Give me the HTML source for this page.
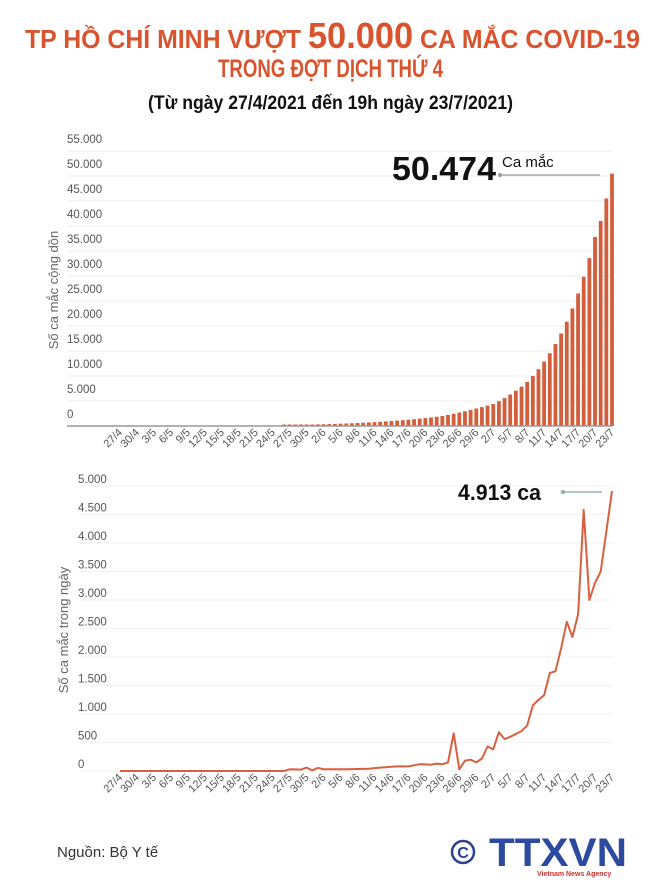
<!DOCTYPE html>
<html><head><meta charset="utf-8"><style>
html,body{margin:0;padding:0;background:#fff;}
svg{display:block;font-family:"Liberation Sans",sans-serif;}
</style></head><body>
<svg id="s" width="661" height="890" viewBox="0 0 661 890" xmlns="http://www.w3.org/2000/svg">
<rect width="661" height="890" fill="#fff"/>
<text x="25" y="48" fill="#d9542e" font-weight="bold" font-size="26" textLength="615" lengthAdjust="spacingAndGlyphs">TP HỒ CHÍ MINH VƯỢT <tspan font-size="36">50.000</tspan> CA MẮC COVID-19</text>
<text x="218" y="77" fill="#d9542e" font-weight="bold" font-size="25" textLength="225" lengthAdjust="spacingAndGlyphs">TRONG ĐỢT DỊCH THỨ 4</text>
<text x="148" y="109" fill="#111" font-size="19" font-weight="bold" textLength="365" lengthAdjust="spacingAndGlyphs">(Từ  ngày 27/4/2021 đến 19h ngày 23/7/2021)</text>
<g id="top"></g>
<g id="bot"></g>
<text x="57" y="857" fill="#333" font-size="15">Nguồn: Bộ Y tế</text>
<circle cx="463" cy="852" r="11" fill="none" stroke="#2b3f93" stroke-width="2.5"/>
<text x="463" y="858" fill="#2b3f93" font-size="16" font-weight="bold" text-anchor="middle">C</text>
<text x="489" y="866" fill="#2b4aa0" font-size="40" font-weight="900" textLength="138" lengthAdjust="spacingAndGlyphs">TTXVN</text>
<text x="537" y="876" fill="#c33" font-size="7" font-weight="bold">Vietnam News Agency</text>
</svg>
<script>
var NS="http://www.w3.org/2000/svg";
function el(p,t,a,txt){var e=document.createElementNS(NS,t);for(var k in a)e.setAttribute(k,a[k]);if(txt!=null)e.textContent=txt;p.appendChild(e);return e;}
var N=88,x0=120,dx=(612-120)/87;
var labels=["27/4","30/4","3/5","6/5","9/5","12/5","15/5","18/5","21/5","24/5","27/5","30/5","2/6","5/6","8/6","11/6","14/6","17/6","20/6","23/6","26/6","29/6","2/7","5/7","8/7","11/7","14/7","17/7","20/7","23/7"];
var kp=[[0,0],[29,0],[30,30],[32,25],[33,60],[34,10],[35,55],[36,30],[40,30],[44,40],[46,60],[49,80],[51,80],[53,120],[55,110],[56,130],[57,120],[58,150],[59,660],[60,30],[61,180],[62,200],[63,150],[64,220],[65,430],[66,380],[67,680],[68,560],[69,600],[70,650],[71,700],[72,800],[73,1150],[74,1250],[75,1330],[76,1720],[77,1750],[78,2150],[79,2620],[80,2350],[81,2750],[82,4580],[83,3000],[84,3300],[85,3500],[86,4200],[87,4913]];
var d=[];for(var i=0;i<N;i++){for(var j=0;j<kp.length-1;j++){if(i>=kp[j][0]&&i<=kp[j+1][0]){var t=(i-kp[j][0])/(kp[j+1][0]-kp[j][0]||1);d[i]=kp[j][1]+t*(kp[j+1][1]-kp[j][1]);break;}}}
var ck=[[32,250],[48,1000],[57,2000],[60,2700],[63,3500],[66,4400],[69,6300],[72,8800],[75,12900],[78,18500],[81,26500],[84,37800],[85,41000],[86,45500],[87,50474]];
var c=[];for(var i=0;i<N;i++){if(i<32){c[i]=i<29?0:60;continue;}for(var j=0;j<ck.length-1;j++){if(i>=ck[j][0]&&i<=ck[j+1][0]){var t=(i-ck[j][0])/(ck[j+1][0]-ck[j][0]);c[i]=Math.exp(Math.log(ck[j][1])+t*(Math.log(ck[j+1][1])-Math.log(ck[j][1])));break;}}}
var T=document.getElementById("top");
var y0=426,sc=250/50000;
for(var v=0;v<=55000;v+=5000){var y=y0-v*sc;el(T,"line",{x1:67,x2:612,y1:y,y2:y,stroke:"#ececec","stroke-width":1});
el(T,"text",{x:67,y:y-8,fill:"#555","font-size":"11.5"},v==0?"0":(v/1000)+".000");}
el(T,"text",{transform:"translate(58,290) rotate(-90)",fill:"#666","font-size":"13","text-anchor":"middle"},"Số ca mắc cộng dồn");
for(var i=0;i<N;i++){var h=c[i]*sc;if(h<0.3)continue;if(h<1.5)h=1.5;el(T,"rect",{x:x0+i*dx-1.9,y:y0-h,width:3.8,height:h,fill:"#d25e3c"});}
el(T,"line",{x1:67,x2:612,y1:y0,y2:y0,stroke:"#999","stroke-width":1.5});
labels.forEach(function(l,k){var x=x0+k*3*dx;el(T,"text",{transform:"translate("+(x+3)+",433) rotate(-45)",fill:"#555","font-size":"11","text-anchor":"end"},l);});
el(T,"text",{x:392,y:180,fill:"#111","font-size":"33","font-weight":"bold",textLength:"104",lengthAdjust:"spacingAndGlyphs"},"50.474");
el(T,"text",{x:502,y:167,fill:"#111","font-size":"15"},"Ca mắc");
el(T,"line",{x1:500,x2:600,y1:175,y2:175,stroke:"#999","stroke-width":1.2});
el(T,"circle",{cx:500,cy:175,r:2,fill:"#999"});
var B=document.getElementById("bot");
var b0=771,bs=285/5000;
for(var v=0;v<=5000;v+=500){var y=b0-v*bs;el(B,"line",{x1:80,x2:612,y1:y,y2:y,stroke:"#f2f2f2","stroke-width":1});
el(B,"text",{x:78,y:y-3,fill:"#555","font-size":"11.5"},v==0?"0":(v>=1000?Math.floor(v/1000)+"."+String(v%1000).padStart(3,"0"):v));}
el(B,"text",{transform:"translate(68,630) rotate(-90)",fill:"#666","font-size":"13","text-anchor":"middle"},"Số ca mắc trong ngày");
var p="";for(var i=0;i<N;i++){p+=(i?"L":"M")+(x0+i*dx).toFixed(1)+","+(b0-d[i]*bs).toFixed(1);}
el(B,"path",{d:p,fill:"none",stroke:"#d9603f","stroke-width":2,"stroke-linejoin":"round"});
labels.forEach(function(l,k){var x=x0+k*3*dx;el(B,"text",{transform:"translate("+(x+3)+",778) rotate(-45)",fill:"#555","font-size":"11","text-anchor":"end"},l);});
el(B,"text",{x:458,y:500,fill:"#111","font-size":"22","font-weight":"bold",textLength:"83",lengthAdjust:"spacingAndGlyphs"},"4.913 ca");
el(B,"line",{x1:563,x2:602,y1:492,y2:492,stroke:"#8fb8a8","stroke-width":1.5});
el(B,"circle",{cx:563,cy:492,r:2.2,fill:"#8fb8a8"});
</script>
</body></html>
